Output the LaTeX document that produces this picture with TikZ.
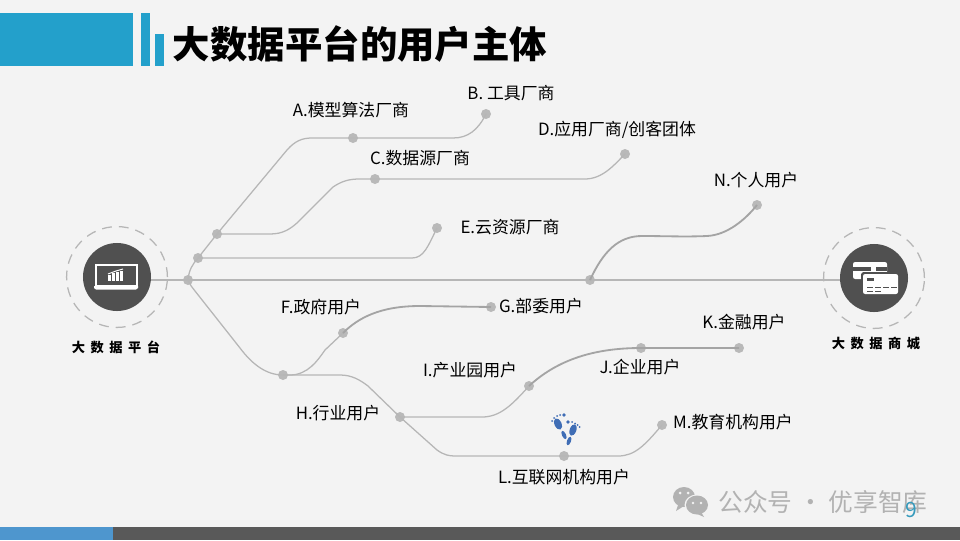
\documentclass[tikz,border=0pt]{standalone}
\usepackage{fontspec}
\setmainfont{Noto Sans CJK SC}
\definecolor{pagebg}{HTML}{F3F3F3}
\definecolor{headblue}{HTML}{23A0CB}
\definecolor{linegray}{HTML}{B6B6B6}
\definecolor{dotgray}{HTML}{B9B9B9}
\definecolor{discgray}{HTML}{505050}
\definecolor{footblue}{HTML}{4E96CE}
\definecolor{footdark}{HTML}{595959}
\definecolor{stepblue}{HTML}{3F6DB5}
\definecolor{markgray}{HTML}{B2B2B2}
\tikzset{
	branch/.style={draw=linegray, line width=0.9pt, line join=round},
	heavybranch/.style={draw=linegray!90!black, line width=1.3pt, line join=round},
	dot/.style={circle, fill=dotgray, inner sep=0pt, minimum size=0.25cm},
	disc/.style={circle, fill=discgray, inner sep=0pt, minimum size=1.7cm},
	ring/.style={circle, draw=linegray, line width=0.9pt, dash pattern=on 7pt off 5pt, inner sep=0pt, minimum size=2.52cm},
	usertext/.style={font=\fontsize{12}{14}\selectfont, text=black, inner sep=0pt},
	hubtext/.style={font=\fontsize{9.4}{11}\selectfont\bfseries, text=black, inner sep=0pt}
}
\newcommand{\hubgap}{\hspace{0.42em}}
\begin{document}
\begin{tikzpicture}[x=0.025cm, y=-0.025cm]
	\useasboundingbox (0,0) rectangle (960,540);
	\fill[pagebg] (0,0) rectangle (960,540);

	% 页眉
	\fill[headblue] (0,13) rectangle (133,66);
	\fill[headblue] (141,13) rectangle (150,66);
	\fill[headblue] (155,34) rectangle (164,66);
	\node[font=\fontsize{26.6}{30}\selectfont\bfseries, inner sep=0pt] (title) at (360,44) {大数据平台的用户主体};

	% 页脚
	\fill[footdark] (0,527) rectangle (960,540);
	\fill[footblue] (0,527) rectangle (113,540);

	% 两端的圆
	\node[ring] (platring) at (117,277) {};
	\node[disc] (plat) at (117,277) {};
	\node[ring] (mallring) at (874,278) {};
	\node[disc] (mall) at (874,278) {};
	\node[hubtext] (plattext) at (116,347) {大\hubgap 数\hubgap 据\hubgap 平\hubgap 台};
	\node[hubtext] (malltext) at (876,343) {大\hubgap 数\hubgap 据\hubgap 商\hubgap 城};

	% 分支上的圆点
	\node[dot] (root) at (188,280) {};
	\node[dot] (forkE) at (198,258) {};
	\node[dot] (forkC) at (217,234) {};
	\node[dot] (nodeA) at (353,138) {};
	\node[dot] (endB) at (486,114) {};
	\node[dot] (nodeC) at (375,179) {};
	\node[dot] (endD) at (625,154) {};
	\node[dot] (endE) at (437,228) {};
	\node[dot] (nodeN) at (590,280) {};
	\node[dot] (endN) at (757,205) {};
	\node[dot] (forkF) at (283,375) {};
	\node[dot] (nodeF) at (343,333) {};
	\node[dot] (endG) at (491,307) {};
	\node[dot] (nodeH) at (400,417) {};
	\node[dot] (nodeI) at (529,386) {};
	\node[dot] (nodeJ) at (641,348) {};
	\node[dot] (endK) at (739,348) {};
	\node[dot] (nodeL) at (564,456) {};
	\node[dot] (endM) at (662,425) {};

	% 主干
	\draw[branch] (root.center -| plat.east) -- (root.center);
	\draw[branch] (root.center) -- (root.center -| mall.west);

	% 上方分支
	\draw[branch] (root.center) .. controls (189,270) and (192,265) .. (forkE.center) -- (forkC.center) -- (287,150) .. controls (295,141) and (302,138) .. (312,138) -- (nodeA.center) -- (453,138) .. controls (468,138) and (478,130) .. (endB.center);
	\draw[branch] (forkC.center) -- (270,234) .. controls (283,234) and (290,229) .. (297,223) -- (333,187) .. controls (342,181) and (349,179) .. (360,179) -- (nodeC.center) -- (585,179) .. controls (603,179) and (615,164) .. (endD.center);
	\draw[branch] (forkE.center) -- (412,258) .. controls (424,258) and (428,246) .. (endE.center);
	\draw[heavybranch] (nodeN.center) .. controls (603,252) and (618,236) .. (642,236) .. controls (665,236) and (685,237) .. (707,236) .. controls (727,235) and (745,220) .. (endN.center);

	% 下方分支
	\draw[branch] (root.center) .. controls (190,285) and (192,287) .. (195,291) -- (240,348) .. controls (252,364) and (266,375) .. (forkF.center);
	\draw[branch] (forkF.center) -- (290,375) .. controls (308,375) and (318,360) .. (325,350) -- (nodeF.center);
	\draw[heavybranch] (nodeF.center) .. controls (358,318) and (380,306) .. (420,306) -- (endG.center);
	\draw[branch] (forkF.center) -- (340,375) .. controls (352,375) and (360,380) .. (368,386) -- (nodeH.center) -- (437,450) .. controls (444,455) and (449,456) .. (455,456) -- (nodeL.center) -- (618,456) .. controls (635,456) and (645,445) .. (endM.center);
	\draw[branch] (nodeH.center) -- (482,417) .. controls (500,417) and (512,405) .. (nodeI.center);
	\draw[heavybranch] (nodeI.center) .. controls (555,362) and (590,348) .. (nodeJ.center) -- (endK.center);

	% 文字
	\node[usertext] (labelA) at (351,110) {A.模型算法厂商};
	\node[usertext] (labelB) at (511,93) {B. 工具厂商};
	\node[usertext] (labelC) at (420,158) {C.数据源厂商};
	\node[usertext] (labelD) at (617,130) {D.应用厂商/创客团体};
	\node[usertext] (labelE) at (510,227) {E.云资源厂商};
	\node[usertext] (labelN) at (756,180) {N.个人用户};
	\node[usertext] (labelF) at (321,307) {F.政府用户};
	\node[usertext] (labelG) at (541,306) {G.部委用户};
	\node[usertext] (labelI) at (470,370) {I.产业园用户};
	\node[usertext] (labelH) at (338,413) {H.行业用户};
	\node[usertext] (labelJ) at (640,367) {J.企业用户};
	\node[usertext] (labelK) at (744,322) {K.金融用户};
	\node[usertext] (labelL) at (564,477) {L.互联网机构用户};
	\node[usertext] (labelM) at (733,422) {M.教育机构用户};

	% 笔记本图标
	\begin{scope}[shift={(plat.center)}]
		\draw[white, line width=0.8pt] (-21,-12) rectangle (20,9);
		\fill[white] (-23,9) -- (21,9) -- (21,11) -- (19,12.5) -- (-21,12.5) -- (-23,11) -- cycle;
		\foreach \bx/\bh in {-9/6, -5/8, -1/9, 3/10}
			\fill[white] (\bx,4) rectangle (\bx+3,4-\bh);
		\draw[white, line width=0.7pt] (-9,-3) -- (-1,-6) -- (6,-8);
	\end{scope}

	% 银行卡图标
	\begin{scope}[shift={(mall.center)}]
		\fill[white, rounded corners=1.5pt] (-21,-16) rectangle (13,1);
		\fill[discgray] (-21,-11) rectangle (13,-7);
		\fill[white] (-3,-11) rectangle (2,-7);
		\fill[discgray, rounded corners=2pt] (-13,-6) rectangle (26,18);
		\fill[white, rounded corners=1.5pt] (-11,-4) rectangle (24,16);
		\fill[discgray] (-7,0) rectangle (0,3);
		\foreach \cx in {-7,1,9,17}
			\fill[discgray] (\cx,8.5) rectangle (\cx+6,10);
		\foreach \cx in {-7,1}
			\fill[discgray] (\cx,12.5) rectangle (\cx+6,14);
	\end{scope}

	% 脚印图标
	\begin{scope}[shift={(566,429)}, stepblue]
		\fill[shift={(-8,-5)}, rotate=25] (0,0) ellipse (3.5 and 6);
		\fill[shift={(-2,6)}, rotate=25] (0,0) ellipse (2 and 4.5);
		\fill[shift={(7,1)}, rotate=-20] (0,0) ellipse (3.3 and 6);
		\fill[shift={(3,12)}, rotate=-20] (0,0) ellipse (2 and 4.5);
		\fill (-2,-14) circle (1.9);
		\foreach \tx/\ty in {-6/-14, -9/-13, -12/-11, -14/-8}
			\fill (\tx,\ty) circle (1);
		\fill (2,-7) circle (1.9);
		\foreach \tx/\ty in {6/-7, 9/-5.5, 11.5/-4, 13.5/-2}
			\fill (\tx,\ty) circle (1);
	\end{scope}

	% 水印
	\fill[markgray] (684,497) ellipse (11 and 10);
	\fill[markgray] (678,505) -- (676,511) -- (684,506) -- cycle;
	\fill[pagebg] (697,505) ellipse (12.5 and 10.5);
	\fill[markgray] (697,505) ellipse (11 and 9.5);
	\fill[markgray] (701,512) -- (704,517) -- (695,513) -- cycle;
	\foreach \ex/\ey in {680/493, 688/493}
		\fill[pagebg] (\ex,\ey) circle (1.5);
	\foreach \ex/\ey in {693/503, 701/503}
		\fill[pagebg] (\ex,\ey) circle (1.4);
	\node[font=\fontsize{17.6}{20}\selectfont, text=markgray, inner sep=0pt] (mark) at (823,502) {公众号 · 优享智库};
	\node[font=\fontsize{15}{17}\selectfont, text=headblue!80!gray, inner sep=0pt] (pagenum) at (911,510) {9};
\end{tikzpicture}
\end{document}
